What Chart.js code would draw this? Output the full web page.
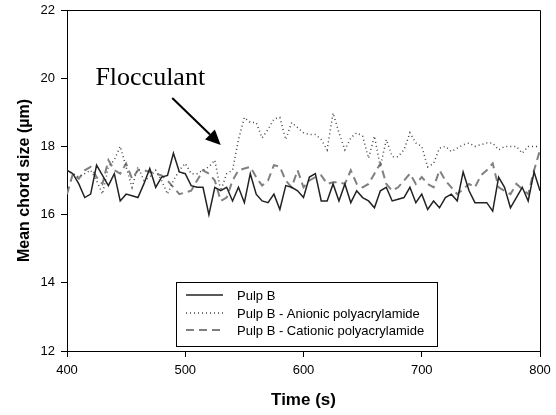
<!DOCTYPE html>
<html>
<head>
<meta charset="utf-8">
<script src="https://cdn.jsdelivr.net/npm/chart.js@4/dist/chart.umd.min.js"></script>
<style>
  body { margin: 0; background: #fff; }
  #wrap { width: 556px; height: 415px; }
</style>
</head>
<body>
<div id="wrap"><canvas id="chordChart" width="556" height="415"></canvas></div>
<script>
// sample times (s)
const times = [
    400, 405, 410, 415, 420, 425, 430, 435, 440, 445,
    450, 455, 460, 465, 470, 475, 480, 485, 490, 495,
    500, 505, 510, 515, 520, 525, 530, 535, 540, 545,
    550, 555, 560, 565, 570, 575, 580, 585, 590, 595,
    600, 605, 610, 615, 620, 625, 630, 635, 640, 645,
    650, 655, 660, 665, 670, 675, 680, 685, 690, 695,
    700, 705, 710, 715, 720, 725, 730, 735, 740, 745,
    750, 755, 760, 765, 770, 775, 780, 785, 790, 795,
    800
];

// mean chord size (um)
const pulpB = [
    17.3, 17.2, 16.9, 16.5, 16.6, 17.45, 17.15, 16.85, 17.2, 16.4,
    16.6, 16.55, 16.5, 16.9, 17.35, 16.8, 17.1, 17.15, 17.8, 17.25,
    17.2, 16.85, 16.8, 16.8, 16.0, 16.8, 16.7, 16.8, 16.4, 16.8,
    16.35, 17.2, 16.6, 16.4, 16.35, 16.6, 16.15, 16.85, 16.8, 16.7,
    16.5, 17.1, 17.2, 16.4, 16.4, 16.9, 16.4, 16.9, 16.35, 16.7,
    16.5, 16.4, 16.2, 16.7, 16.8, 16.4, 16.45, 16.5, 16.8, 16.35,
    16.6, 16.15, 16.4, 16.2, 16.5, 16.6, 16.4, 17.25, 16.7, 16.35,
    16.35, 16.35, 16.1, 17.1, 16.8, 16.2, 16.5, 16.8, 16.4, 17.25,
    16.7
];

const anionic = [
    17.3, 17.2, 17.1, 17.2, 17.3, 17.0, 16.6, 17.4, 17.6, 18.0,
    17.4, 16.8, 17.4, 17.0, 17.1, 17.3, 17.0, 16.6, 17.0, 17.3,
    17.5, 17.2, 17.2, 17.3, 17.4, 17.6, 16.7, 17.2, 17.3, 18.2,
    18.85, 18.7, 18.7, 18.25, 18.5, 18.8, 18.85, 18.2, 18.7, 18.55,
    18.4, 18.35, 18.35, 18.2, 17.9, 18.98, 18.4, 17.9, 18.25, 18.4,
    18.3, 17.65, 18.3, 17.4, 18.2, 17.7, 17.7, 17.9, 18.4, 18.1,
    18.0, 17.4, 17.5, 17.95, 18.0, 17.85, 17.95, 18.05, 18.1, 18.0,
    18.05, 18.1, 18.1, 17.9, 18.0, 18.0, 18.0, 17.8, 18.0, 18.0,
    18.0
];

const cationic = [
    16.6, 17.2, 17.05, 17.3, 17.4, 17.1, 16.9, 17.6, 17.3, 17.2,
    17.5, 17.05, 17.3, 17.3, 17.25, 17.2, 17.15, 17.0, 16.8, 16.6,
    16.65, 16.7, 17.0, 17.3, 17.2, 17.0, 16.4, 16.5, 17.0, 17.3,
    17.35, 17.4, 17.1, 16.85, 17.0, 17.45, 17.4, 17.0, 16.8, 17.3,
    16.8, 17.0, 17.1, 17.15, 16.9, 16.95, 16.95, 16.9, 17.3, 16.9,
    16.8, 16.9, 17.2, 17.5, 16.9, 16.7, 16.8, 17.0, 17.2, 16.9,
    17.1, 16.9, 16.8, 17.3, 17.0, 16.8, 16.6, 16.75, 16.9, 16.8,
    17.15, 17.3, 17.5, 16.8, 16.7, 16.6, 16.9, 16.75, 16.6, 17.3,
    17.9
];

const seriesNames = ['Pulp B', 'Pulp B - Anionic polyacrylamide', 'Pulp B - Cationic polyacrylamide'];
const seriesColors = ['#222222', '#444444', '#808080'];
const seriesDashes = [[], [1, 3], [8, 5]];
const seriesWidths = [1.5, 1.5, 2];

const SANS = "'Liberation Sans', Arial, sans-serif";

function toPoints(vals) {
    return vals.map((v, i) => ({ x: times[i], y: v }));
}

// box around the plot, the inner legend and the note
const framePlugin = {
    id: 'frame',
    afterDatasetsDraw(chart) {
        const { ctx, chartArea } = chart;
        ctx.save();
        ctx.strokeStyle = '#000';
        ctx.lineWidth = 1;
        ctx.beginPath();
        ctx.moveTo(Math.round(chartArea.left) + 0.5, Math.round(chartArea.top) + 0.5);
        ctx.lineTo(Math.round(chartArea.right) + 0.5, Math.round(chartArea.top) + 0.5);
        ctx.lineTo(Math.round(chartArea.right) + 0.5, Math.round(chartArea.bottom) + 0.5);
        ctx.stroke();

        // legend box
        const bx = 176.5, by = 282.5, bw = 261, bh = 64;
        ctx.fillStyle = '#fff';
        ctx.fillRect(bx, by, bw, bh);
        ctx.strokeRect(bx, by, bw, bh);
        ctx.font = '13px ' + SANS;
        ctx.textBaseline = 'middle';
        const rows = [295, 313, 330];
        seriesNames.forEach((name, i) => {
            ctx.strokeStyle = seriesColors[i];
            ctx.lineWidth = seriesWidths[i];
            ctx.setLineDash(seriesDashes[i]);
            ctx.beginPath();
            ctx.moveTo(186, rows[i]);
            ctx.lineTo(223, rows[i]);
            ctx.stroke();
            ctx.setLineDash([]);
            ctx.fillStyle = '#000';
            ctx.fillText(name, 237, rows[i] + 1);
        });

        // "Flocculant" note with arrow
        const xs = chart.scales.x, ys = chart.scales.y;
        ctx.fillStyle = '#000';
        ctx.font = "26px 'Liberation Serif', 'Times New Roman', serif";
        ctx.textBaseline = 'alphabetic';
        ctx.fillText('Flocculant', xs.getPixelForValue(424), ys.getPixelForValue(19.8));

        const x0 = xs.getPixelForValue(489), y0 = ys.getPixelForValue(19.42);
        const x1 = xs.getPixelForValue(530), y1 = ys.getPixelForValue(18.04);
        const ang = Math.atan2(y1 - y0, x1 - x0);
        const headLen = 15, headW = 7;
        const bxh = x1 - headLen * Math.cos(ang), byh = y1 - headLen * Math.sin(ang);
        ctx.strokeStyle = '#000';
        ctx.lineWidth = 2;
        ctx.beginPath();
        ctx.moveTo(x0, y0);
        ctx.lineTo(bxh, byh);
        ctx.stroke();
        ctx.beginPath();
        ctx.moveTo(x1, y1);
        ctx.lineTo(bxh + headW * Math.sin(ang), byh - headW * Math.cos(ang));
        ctx.lineTo(bxh - headW * Math.sin(ang), byh + headW * Math.cos(ang));
        ctx.closePath();
        ctx.fill();
        ctx.restore();
    }
};

const ctx = document.getElementById('chordChart').getContext('2d');
new Chart(ctx, {
    type: 'line',
    data: {
        datasets: [pulpB, anionic, cationic].map((vals, i) => ({
            label: seriesNames[i],
            data: toPoints(vals),
            borderColor: seriesColors[i],
            borderWidth: seriesWidths[i],
            borderDash: seriesDashes[i],
            pointRadius: 0,
            tension: 0,
            fill: false
        }))
    },
    options: {
        responsive: false,
        animation: false,
        layout: { padding: { top: 10, right: 16, left: 0, bottom: 0 } },
        plugins: {
            legend: { display: false },
            tooltip: { enabled: false }
        },
        scales: {
            x: {
                type: 'linear',
                min: 400,
                max: 800,
                afterFit(scale) {
                    scale.height = 64;
                    scale.paddingLeft = 0;
                    scale.paddingRight = 0;
                },
                ticks: {
                    stepSize: 100,
                    color: '#000',
                    padding: 6,
                    maxRotation: 0,
                    font: { family: SANS, size: 13 }
                },
                grid: { drawOnChartArea: false, drawTicks: true, tickLength: 6, color: '#000' },
                border: { color: '#000', width: 1 },
                title: {
                    display: true,
                    text: 'Time (s)',
                    color: '#000',
                    padding: { top: 0, bottom: 4 },
                    font: { family: SANS, size: 17, weight: 'bold' }
                }
            },
            y: {
                min: 12,
                max: 22,
                afterFit(scale) {
                    scale.width = 67;
                    scale.paddingTop = 0;
                    scale.paddingBottom = 0;
                },
                ticks: {
                    stepSize: 2,
                    color: '#000',
                    padding: 6,
                    font: { family: SANS, size: 13 }
                },
                grid: { drawOnChartArea: false, drawTicks: true, tickLength: 6, color: '#000' },
                border: { color: '#000', width: 1 },
                title: {
                    display: true,
                    text: 'Mean chord size (µm)',
                    color: '#000',
                    padding: { top: 15, bottom: 0 },
                    font: { family: SANS, size: 16, weight: 'bold' }
                }
            }
        }
    },
    plugins: [framePlugin]
});
</script>
</body>
</html>
